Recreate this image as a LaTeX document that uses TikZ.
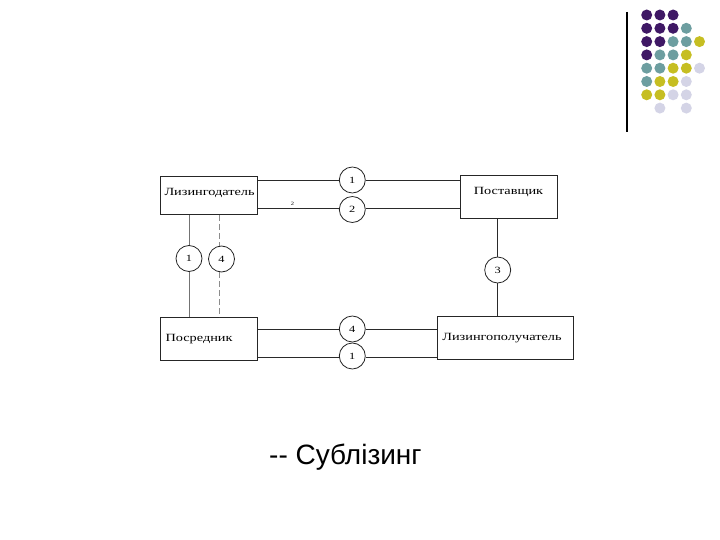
\documentclass[tikz,border=0pt]{standalone}
\usepackage{fontspec}
\setmainfont{Liberation Serif}
\newfontfamily\diagfont[FakeStretch=1.3]{Liberation Serif}
\newfontfamily\capfont{Liberation Sans}
\definecolor{dpurple}{HTML}{3F1865}
\definecolor{dteal}{HTML}{6D9EA0}
\definecolor{dyellow}{HTML}{C6BE22}
\definecolor{dlav}{HTML}{D4D4E6}
\definecolor{lineclr}{HTML}{2A2A2A}
\tikzset{
  box/.style={draw=black!85, line width=1pt, inner sep=0pt},
  lbl/.style={font=\diagfont\fontsize{11}{12}\selectfont},
  num/.style={draw=black!85, circle, line width=0.8pt, minimum size=26pt, inner sep=0pt, font=\diagfont\fontsize{9.5}{10}\selectfont},
  conn/.style={draw=lineclr, line width=0.9pt},
  connl/.style={draw=black!55, line width=0.6pt},
  connd/.style={draw=black!45, line width=0.6pt, dash pattern=on 6pt off 3pt},
  dot/.style={circle, inner sep=0pt, minimum size=11pt}
}
\begin{document}
\begin{tikzpicture}[x=1pt,y=-1pt]
\useasboundingbox (0,0) rectangle (720,540);
% decorative dots
\draw[black, line width=1.3pt] (627,12) -- (627,132);
\foreach \c/\x/\y in {
 dpurple/0/0, dpurple/1/0, dpurple/2/0,
 dpurple/0/1, dpurple/1/1, dpurple/2/1, dteal/3/1,
 dpurple/0/2, dpurple/1/2, dteal/2/2, dteal/3/2, dyellow/4/2,
 dpurple/0/3, dteal/1/3, dteal/2/3, dyellow/3/3,
 dteal/0/4, dteal/1/4, dyellow/2/4, dyellow/3/4, dlav/4/4,
 dteal/0/5, dyellow/1/5, dyellow/2/5, dlav/3/5,
 dyellow/0/6, dyellow/1/6, dlav/2/6, dlav/3/6,
 dlav/1/7, dlav/3/7}
 \node[dot, fill=\c] (d\x\y) at ({646.7+13.2*\x},{15+13.3*\y}) {};
% boxes
\node[box, minimum width=97pt, minimum height=38pt, anchor=north west] (ld) at (160,176) {};
\node[lbl, anchor=west] (ldt) at (161,193) {Лизингодатель};
\node[box, minimum width=97pt, minimum height=43pt, anchor=north west] (ps) at (460,175) {};
\node[lbl] (pst) at (508.5,192) {Поставщик};
\node[box, minimum width=97pt, minimum height=43pt, anchor=north west] (po) at (160,317) {};
\node[lbl, anchor=west] (pot) at (162,339) {Посредник};
\node[box, minimum width=136pt, minimum height=43pt, anchor=north west] (lp) at (437,316) {};
\node[lbl] (lpt) at (502,338) {Лизингополучатель};
% circles
\node[num] (t1) at (352.3,180) {1};
\node[num] (t2) at (352.3,209.5) {2};
\node[num] (l1) at (189,258.5) {1};
\node[num] (l4) at (221.5,259) {4};
\node[num] (r3) at (497.7,270) {3};
\node[num] (b4) at (352.3,329) {4};
\node[num] (b1) at (352.3,356) {1};
\node[font=\diagfont\fontsize{5}{6}\selectfont] (sm) at (292.5,203.5) {2};
% connectors
\draw[conn] (ld.east |- t1) -- (t1.west);
\draw[conn] (t1.east) -- (ps.west |- t1);
\draw[conn] (ld.east |- 0,208) -- (t2.west |- 0,208);
\draw[conn] (t2.east |- 0,208) -- (ps.west |- 0,208);
\draw[connl] (ld.south -| l1) -- (l1.north);
\draw[connl] (l1.south) -- (po.north -| l1);
\draw[connd] (ld.south -| 219.5,0) -- (219.5,246);
\draw[connd] (219.5,272) -- (po.north -| 219.5,0);
\draw[conn] (ps.south -| r3) -- (r3.north);
\draw[conn] (r3.south) -- (lp.north -| r3);
\draw[conn] (po.east |- b4) -- (b4.west);
\draw[conn] (b4.east) -- (lp.west |- b4);
\draw[conn] (po.east |- 0,357.5) -- (b1.west |- 0,357.5);
\draw[conn] (b1.east |- 0,357.5) -- (lp.west |- 0,357.5);
% caption
\node[anchor=west, font=\capfont\fontsize{28}{32}\selectfont, inner sep=0pt] (cap) at (269,457) {-{}- Сублізинг};
\end{tikzpicture}
\end{document}
